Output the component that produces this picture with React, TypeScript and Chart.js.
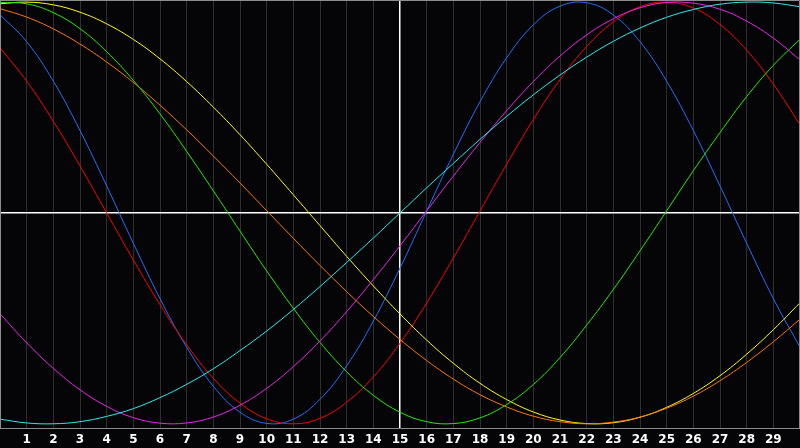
import React, { useEffect, useRef } from "react";
import { Chart, registerables } from "chart.js";

Chart.register(...registerables);

const xValues = [0,1,2,3,4,5,6,7,8,9,10,11,12,13,14,15,16,17,18,19,20,21,22,23,24,25,26,27,28,29,30];
const tickLabels = ["1","2","3","4","5","6","7","8","9","10","11","12","13","14","15","16","17","18","19","20","21","22","23","24","25","26","27","28","29"];

const yellowSeries = [0.992,1.0,0.987,0.952,0.897,0.823,0.731,0.623,0.502,0.371,0.231,0.086,-0.06,-0.206,-0.346,-0.479,-0.603,-0.713,-0.808,-0.885,-0.944,-0.982,-0.999,-0.995,-0.969,-0.922,-0.856,-0.772,-0.67,-0.554,-0.426];
const orangeSeries = [0.969,0.929,0.873,0.801,0.716,0.619,0.511,0.394,0.27,0.142,0.011,-0.12,-0.249,-0.373,-0.491,-0.6,-0.7,-0.788,-0.862,-0.92,-0.964,-0.99,-1.0,-0.992,-0.968,-0.926,-0.869,-0.796,-0.709,-0.611,-0.504];
const greenSeries = [0.998,0.992,0.95,0.874,0.765,0.629,0.47,0.292,0.105,-0.086,-0.275,-0.452,-0.614,-0.753,-0.865,-0.945,-0.99,-0.999,-0.972,-0.909,-0.814,-0.686,-0.532,-0.363,-0.18,0.01,0.2,0.381,0.552,0.7,0.824];
const blueSeries = [0.94,0.812,0.625,0.391,0.128,-0.144,-0.406,-0.637,-0.822,-0.945,-0.998,-0.978,-0.884,-0.725,-0.513,-0.262,0.009,0.278,0.527,0.736,0.892,0.981,0.997,0.939,0.812,0.625,0.391,0.128,-0.144,-0.406,-0.637];
const redSeries = [0.784,0.625,0.435,0.223,0.0,-0.223,-0.435,-0.625,-0.784,-0.902,-0.976,-1.0,-0.974,-0.898,-0.778,-0.618,-0.427,-0.214,0.009,0.231,0.443,0.632,0.789,0.906,0.978,1.0,0.972,0.894,0.772,0.611,0.419];
const magentaSeries = [-0.478,-0.616,-0.737,-0.839,-0.917,-0.971,-0.997,-0.996,-0.968,-0.912,-0.832,-0.729,-0.607,-0.468,-0.316,-0.156,0.01,0.175,0.334,0.485,0.623,0.744,0.844,0.921,0.973,0.998,0.995,0.966,0.91,0.829,0.726];
const cyanSeries = [-0.978,-0.996,-1.0,-0.99,-0.965,-0.928,-0.876,-0.813,-0.739,-0.653,-0.56,-0.458,-0.349,-0.235,-0.119,0.0,0.119,0.235,0.349,0.458,0.56,0.654,0.739,0.814,0.877,0.928,0.965,0.99,1.0,0.996,0.978];

const seriesList = [
  { name: "cyan", values: cyanSeries, color: "#22eeee" },
  { name: "magenta", values: magentaSeries, color: "#ee22ee" },
  { name: "green", values: greenSeries, color: "#22ee00" },
  { name: "orange", values: orangeSeries, color: "#ff7700" },
  { name: "yellow", values: yellowSeries, color: "#ffff00" },
  { name: "red", values: redSeries, color: "#ff0000" },
  { name: "blue", values: blueSeries, color: "#1f6fff" },
];

const frame = {
  id: "frame",
  beforeDraw(chart: any) {
    const ctx = chart.ctx;
    ctx.save();
    ctx.fillStyle = "#050507";
    ctx.fillRect(0, 0, chart.width, chart.height);
    ctx.restore();
  },
  afterDatasetsDraw(chart: any) {
    const { ctx, chartArea } = chart;
    ctx.save();
    ctx.strokeStyle = "#8c8c8c";
    ctx.lineWidth = 1;
    ctx.beginPath();
    ctx.moveTo(chartArea.left + 0.5, chartArea.top + 0.5);
    ctx.lineTo(chartArea.right - 0.5, chartArea.top + 0.5);
    ctx.lineTo(chartArea.right - 0.5, chartArea.bottom);
    ctx.moveTo(chartArea.left + 0.5, chartArea.top);
    ctx.lineTo(chartArea.left + 0.5, chartArea.bottom);
    ctx.stroke();
    ctx.restore();
  },
};

export default function App() {
  const ref = useRef<HTMLCanvasElement | null>(null);
  useEffect(() => {
    document.body.style.margin = "0";
    document.body.style.background = "#050507";
    if (!ref.current) return;
    const chart = new Chart(ref.current, {
      type: "line",
      data: {
        datasets: seriesList.map((s) => ({
          label: s.name,
          data: xValues.map((x, i) => ({ x, y: s.values[i] })),
          borderColor: s.color,
          borderWidth: 1,
          pointRadius: 0,
          tension: 0.4,
          fill: false,
        })),
      },
      options: {
        animation: false,
        responsive: false,
        layout: { padding: 0 },
        plugins: { legend: { display: false }, tooltip: { enabled: false } },
        scales: {
          x: {
            type: "linear",
            min: 0,
            max: 30,
            afterFit: (scale: any) => {
              scale.height = 20;
              scale.paddingLeft = 0;
              scale.paddingRight = 0;
            },
            ticks: {
              stepSize: 1,
              autoSkip: false,
              maxRotation: 0,
              padding: 5,
              color: "#ffffff",
              font: { family: "DejaVu Sans", size: 12, weight: "bold" },
              callback: (v: any) => {
                const idx = tickLabels.indexOf(String(v));
                return idx >= 0 ? tickLabels[idx] : "";
              },
            },
            grid: {
              drawTicks: false,
              color: (c: any) => (c.tick && c.tick.value === 15 ? "#ffffff" : "#2f2f2f"),
              lineWidth: (c: any) => (c.tick && c.tick.value === 15 ? 1.5 : 1),
            },
            border: { display: true, color: "#8c8c8c", width: 1 },
          },
          y: {
            min: -1.02,
            max: 1.01,
            afterFit: (scale: any) => {
              scale.width = 0;
              scale.paddingTop = 0;
              scale.paddingBottom = 0;
            },
            ticks: { display: false, stepSize: 0.5 },
            grid: {
              drawTicks: false,
              color: (c: any) => (c.tick && c.tick.value === 0 ? "#ffffff" : "rgba(0,0,0,0)"),
              lineWidth: 1.5,
            },
            border: { display: false },
          },
        },
      },
      plugins: [frame],
    });
    return () => chart.destroy();
  }, []);
  return (
    <div style={{ width: 800, height: 448 }}>
      <canvas ref={ref} width={800} height={448} />
    </div>
  );
}
